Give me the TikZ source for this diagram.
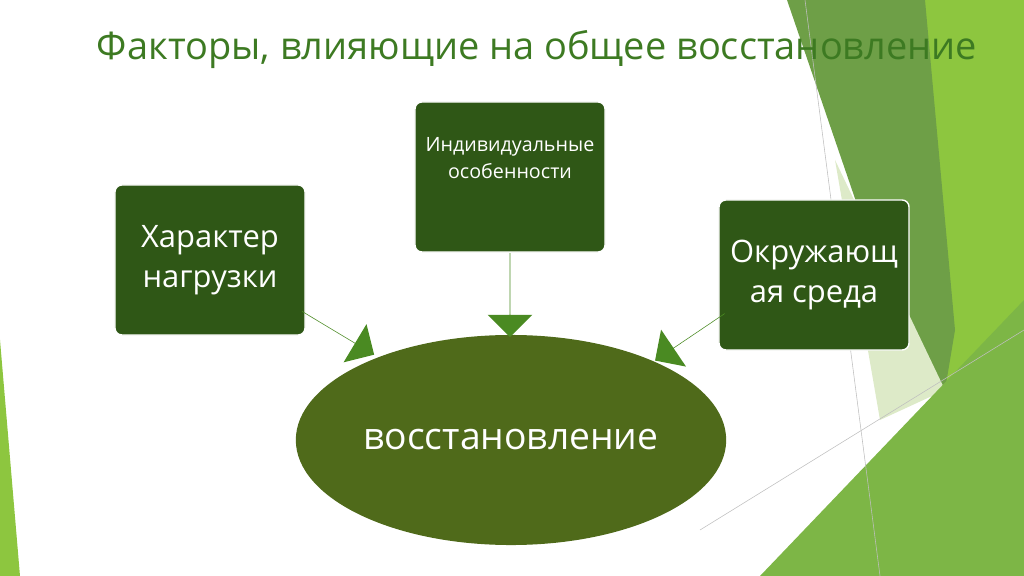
\documentclass[tikz,border=0pt]{standalone}
\usepackage{fontspec}
\setmainfont{Open Sans}
\usetikzlibrary{shapes.arrows,shapes.geometric,positioning}
\definecolor{titlegreen}{HTML}{3D7A22}
\definecolor{boxgreen}{HTML}{2F5716}
\definecolor{arrowgreen}{HTML}{4A8A22}
\definecolor{ovalgreen}{HTML}{4F6A1A}
\definecolor{bgmid}{HTML}{6E9F47}
\definecolor{bglight}{HTML}{8DC63F}
\definecolor{bgpale}{HTML}{DDEAC8}
\definecolor{bgleaf}{HTML}{7DB646}
\tikzset{
  factorbox/.style={rectangle,rounded corners=5pt,fill=boxgreen,draw=white,line width=1pt,
    minimum width=4.75cm,minimum height=3.75cm,text=white,align=center},
  blockarrow/.style={single arrow,fill=arrowgreen,minimum width=0.9cm,single arrow head extend=0.55cm,
    minimum height=2.1cm,inner sep=0pt}
}
\begin{document}
\begin{tikzpicture}[x=0.025cm,y=-0.025cm]
   \useasboundingbox (0,0) rectangle (1024,576);
   % background
   \fill[bglight] (915,0) -- (1024,0) -- (1024,576) -- (870,576) -- (945,390) -- cycle;
   \fill[bgmid] (787,0) -- (925,0) -- (955,330) -- (945,390) -- (900,330) -- cycle;
   \fill[bgpale] (835,160) -- (945,390) -- (880,420) -- cycle;
   \fill[bgleaf] (760,576) -- (1024,300) -- (1024,576) -- cycle;
   \fill[bglight] (0,340) -- (20,576) -- (0,576) -- cycle;
   \draw[gray!50,line width=0.4pt] (805,0) -- (880,576);
   \draw[gray!50,line width=0.4pt] (700,530) -- (1024,330);
   % title
   \node[anchor=west,text=titlegreen,font=\fontsize{27}{32}\selectfont] (title) at (92,50)
      {Факторы, влияющие на общее восстановление};
   % boxes
   \node[factorbox,font=\fontsize{22}{28}\selectfont] (load) at (210,260) {Характер\\нагрузки};
   \node[factorbox,font=\fontsize{14}{19}\selectfont,text depth=0.95cm] (indiv) at (510,177) {Индивидуальные\\особенности};
   \node[factorbox,font=\fontsize{22}{28}\selectfont] (env) at (814,275) {Окружающ\\ая среда};
   \node[ellipse,fill=ovalgreen,minimum width=10.75cm,minimum height=5.25cm,text=white,
      font=\fontsize{26.5}{32}\selectfont] (rec) at (511,440) {восстановление};
   % arrows
   \node[blockarrow,rotate=-90] (a2) at (510,295) {};
   \node[blockarrow,rotate=-31] (a1) at (338,333) {};
   \node[blockarrow,rotate=-146] (a3) at (690,337) {};
\end{tikzpicture}
\end{document}
